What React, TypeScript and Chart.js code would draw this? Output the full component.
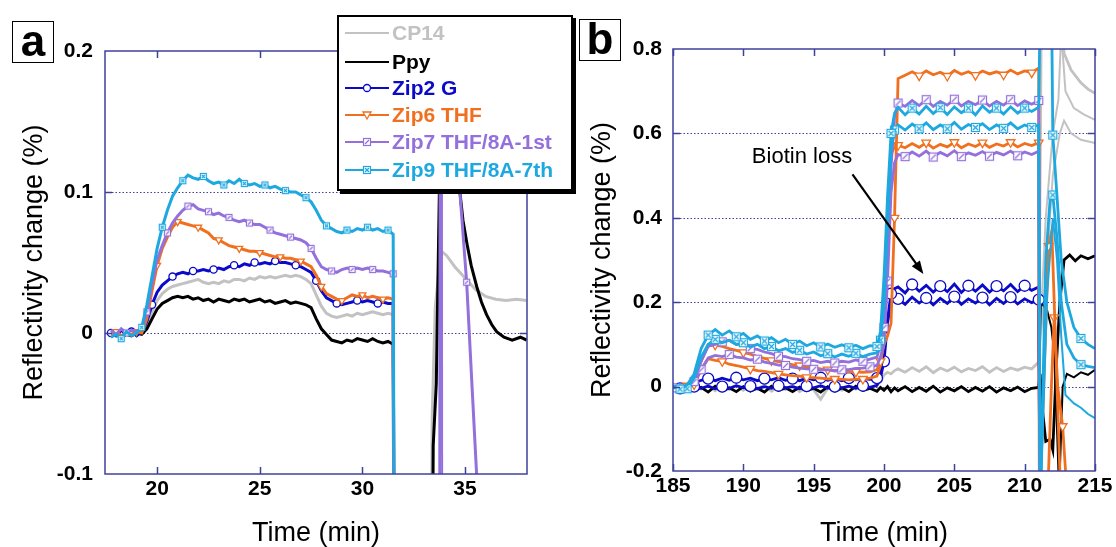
import React, { useEffect, useRef } from 'react';
import { Chart, registerables } from 'chart.js';

Chart.register(...registerables);

const FONT = '"Liberation Sans", Arial, Helvetica, sans-serif';

// ---------- colours ----------
const colCP14 = '#c2c2c2';
const colPpy = '#000000';
const colZip2 = '#0a0ac8';
const colZip6 = '#f07020';
const colZip7 = '#9370db';
const colZip9 = '#1ea8e0';
const frameColor = '#40409c';

// ---------- legend ----------
const seriesNames = ['CP14', 'Ppy', 'Zip2 G', 'Zip6 THF', 'Zip7 THF/8A-1st', 'Zip9 THF/8A-7th'];

// ---------- panel a: ticks ----------
const xTicksA = [20, 25, 30, 35];
const yTicksA = [-0.1, 0, 0.1, 0.2];
const yLabelsA = ['-0.1', '0', '0.1', '0.2'];
const xTitle = 'Time (min)';
const yTitle = 'Reflectivity change (%)';

// ---------- panel a: data ----------
const timeA = [
  17.75, 18, 18.25, 18.5, 18.75, 19, 19.25, 19.5, 19.75, 20,
  20.25, 20.5, 20.75, 21, 21.25, 21.5, 21.75, 22, 22.25, 22.5,
  22.75, 23, 23.25, 23.5, 23.75, 24, 24.25, 24.5, 24.75, 25,
  25.25, 25.5, 25.75, 26, 26.25, 26.5, 26.75, 27, 27.25, 27.5,
  27.75, 28, 28.25, 28.5, 28.75, 29, 29.25, 29.5, 29.75, 30,
  30.25, 30.5, 30.75, 31, 31.25, 31.5,
];
const zip9A = [
  -0.003, -0.001, -0.004, 0.001, -0.002, 0.0, 0.004, 0.02, 0.04, 0.06,
  0.075, 0.087, 0.097, 0.103, 0.108, 0.112, 0.11, 0.109, 0.111, 0.108,
  0.106, 0.107, 0.105, 0.108, 0.106, 0.109, 0.106, 0.105, 0.106, 0.104,
  0.105, 0.103, 0.104, 0.102, 0.101, 0.1, 0.1, 0.098, 0.096, 0.093,
  0.087, 0.08, 0.076, 0.074, 0.072, 0.071, 0.073, 0.072, 0.074, 0.073,
  0.075, 0.073, 0.074, 0.072, 0.073, 0.07,
];
const zip7A = [
  0.002, -0.001, 0.003, 0.0, 0.002, 0.001, 0.003, 0.015, 0.035, 0.052,
  0.062, 0.071, 0.078, 0.083, 0.087, 0.09, 0.091, 0.088, 0.087, 0.086,
  0.084, 0.085, 0.083, 0.082, 0.08, 0.079, 0.08, 0.078, 0.077, 0.077,
  0.075, 0.073, 0.071, 0.07, 0.069, 0.068, 0.067, 0.066, 0.064, 0.06,
  0.053, 0.047, 0.045, 0.044, 0.043, 0.045, 0.046, 0.045, 0.046, 0.045,
  0.046, 0.045, 0.044, 0.044, 0.043, 0.042,
];
const zip6A = [
  -0.001, 0.001, -0.002, 0.0, -0.001, 0.001, 0.0, 0.01, 0.03, 0.048,
  0.06, 0.068, 0.075, 0.079, 0.078, 0.077, 0.076, 0.075, 0.073, 0.071,
  0.067, 0.066, 0.064, 0.062, 0.061, 0.06, 0.059, 0.058, 0.058, 0.057,
  0.056, 0.055, 0.054, 0.054, 0.053, 0.053, 0.052, 0.051, 0.049, 0.047,
  0.041, 0.033, 0.028, 0.026, 0.024, 0.023, 0.025, 0.027, 0.026, 0.027,
  0.025, 0.026, 0.025, 0.024, 0.025, 0.024,
];
const zip2A = [
  0.0, -0.002, 0.002, -0.001, 0.001, -0.002, 0.001, 0.008, 0.02, 0.029,
  0.034, 0.037, 0.04, 0.042, 0.043, 0.042, 0.044, 0.044, 0.045, 0.044,
  0.045, 0.046, 0.045, 0.047, 0.048, 0.047, 0.049, 0.048, 0.05, 0.049,
  0.05, 0.049, 0.051, 0.05, 0.05, 0.049, 0.048, 0.047, 0.045, 0.043,
  0.037, 0.03, 0.025, 0.023, 0.021, 0.02, 0.021, 0.022, 0.023, 0.022,
  0.023, 0.022, 0.021, 0.022, 0.021, 0.021,
];
const cp14A = [
  0.001, -0.001, 0.002, 0.0, 0.001, -0.001, 0.001, 0.006, 0.015, 0.023,
  0.028, 0.031, 0.033, 0.034, 0.035, 0.036, 0.037, 0.038, 0.036, 0.035,
  0.036, 0.035, 0.037, 0.036, 0.038, 0.038, 0.037, 0.039, 0.038, 0.04,
  0.039, 0.04, 0.039, 0.04, 0.041, 0.04, 0.041, 0.04, 0.038, 0.035,
  0.027, 0.019, 0.014, 0.012, 0.011, 0.012, 0.013, 0.012, 0.014, 0.013,
  0.014, 0.015, 0.014, 0.013, 0.014, 0.013,
];
const ppyA = [
  -0.002, -0.001, -0.003, -0.001, -0.002, 0.0, -0.001, 0.003, 0.01, 0.017,
  0.021, 0.023, 0.025, 0.026, 0.025, 0.026, 0.024, 0.025, 0.023, 0.024,
  0.022, 0.024, 0.023, 0.022, 0.024, 0.023, 0.024, 0.022, 0.023, 0.024,
  0.022, 0.023, 0.021, 0.022, 0.023, 0.021, 0.022, 0.021, 0.02, 0.018,
  0.01, 0.003, -0.001, -0.005, -0.006, -0.007, -0.005, -0.006, -0.004, -0.005,
  -0.006, -0.004, -0.006, -0.007, -0.006, -0.008,
];
// after-injection parts of panel a
const cp14TailTA = [31.6, 33.25, 33.4, 33.55, 33.7, 33.85, 34.1, 34.5, 35.0, 35.5, 36.0, 36.5, 37.0, 37.5, 38.0];
const cp14TailVA = [-0.5, -0.5, -0.06, 0.018, 0.04, 0.058, 0.055, 0.047, 0.039, 0.031, 0.026, 0.024, 0.023, 0.024, 0.023];
const ppyTailTA = [31.6, 33.3, 33.45, 33.6, 33.75, 33.9, 34.6, 34.75, 34.9, 35.1, 35.3, 35.57, 35.8, 36.05, 36.3, 36.54, 36.9, 37.3, 37.7, 38.0];
const ppyTailVA = [-0.5, -0.5, -0.08, -0.036, 0.1, 0.35, 0.35, 0.1, 0.08, 0.063, 0.048, 0.033, 0.022, 0.013, 0.006, 0.001, -0.003, -0.005, -0.003, -0.005];
const zip7TailTA = [31.6, 33.75, 33.8, 34.65, 34.75, 35.08, 35.35, 35.6];
const zip7TailVA = [-0.5, -0.5, 0.4, 0.4, 0.1, 0.036, -0.04, -0.11];
const zip7TailMarksA = [35.08];
const zip7SpikeTA = [33.86, 33.9];
const zip7SpikeVA = [0.4, -0.4];
const dropTA = [31.62];
const dropVA = [-0.5];

// ---------- panel b: ticks ----------
const xTicksB = [185, 190, 195, 200, 205, 210, 215];
const yTicksB = [-0.2, 0, 0.2, 0.4, 0.6, 0.8];
const yLabelsB = ['-0.2', '0', '0.2', '0.4', '0.6', '0.8'];

// ---------- panel b: data ----------
const timeB = [
  185, 185.5, 186, 186.5, 187, 187.5, 188, 188.5, 189, 189.5,
  190, 190.5, 191, 191.5, 192, 192.5, 193, 193.5, 194, 194.5,
  195, 195.5, 196, 196.5, 197, 197.5, 198, 198.5, 199, 199.5,
  199.75, 200, 200.25, 200.5, 200.75,
  201, 201.5, 202, 202.5, 203, 203.5, 204, 204.5, 205, 205.5, 206,
  206.5, 207, 207.5, 208, 208.5, 209, 209.5, 210, 210.5, 211,
];
const zip9B1 = [
  0.002, -0.006, 0.004, 0.03, 0.09, 0.122, 0.135, 0.122, 0.132, 0.118,
  0.126, 0.112, 0.12, 0.108, 0.116, 0.104, 0.112, 0.1, 0.108, 0.097,
  0.104, 0.094, 0.101, 0.093, 0.099, 0.092, 0.098, 0.09, 0.097, 0.095,
  0.13, 0.26, 0.45, 0.6, 0.648,
  0.662, 0.644, 0.66, 0.646, 0.664, 0.647, 0.661, 0.645, 0.663, 0.649, 0.66,
  0.644, 0.665, 0.65, 0.66, 0.646, 0.663, 0.648, 0.66, 0.652, 0.662,
];
const zip9B2 = [
  -0.004, 0.002, -0.005, 0.02, 0.07, 0.1, 0.112, 0.104, 0.11, 0.1,
  0.104, 0.094, 0.1, 0.09, 0.095, 0.085, 0.09, 0.081, 0.086, 0.077,
  0.082, 0.073, 0.078, 0.07, 0.077, 0.072, 0.079, 0.071, 0.077, 0.08,
  0.11, 0.19, 0.38, 0.56, 0.608,
  0.62, 0.608, 0.622, 0.611, 0.625, 0.609, 0.62, 0.611, 0.626, 0.61, 0.621,
  0.614, 0.623, 0.609, 0.62, 0.612, 0.625, 0.611, 0.62, 0.614, 0.62,
];
const zip7B1 = [
  0.001, -0.004, 0.002, 0.012, 0.06, 0.095, 0.1, 0.106, 0.11, 0.1,
  0.1, 0.09, 0.088, 0.082, 0.078, 0.072, 0.071, 0.066, 0.064, 0.06,
  0.062, 0.057, 0.06, 0.056, 0.06, 0.058, 0.063, 0.06, 0.065, 0.07,
  0.1, 0.14, 0.3, 0.52, 0.64,
  0.672, 0.664, 0.678, 0.666, 0.68, 0.664, 0.676, 0.667, 0.681, 0.665, 0.676,
  0.668, 0.679, 0.665, 0.676, 0.667, 0.68, 0.666, 0.677, 0.669, 0.678,
];
const zip7B2 = [
  -0.003, 0.002, -0.002, 0.006, 0.04, 0.068, 0.074, 0.071, 0.076, 0.07,
  0.068, 0.063, 0.065, 0.058, 0.055, 0.051, 0.05, 0.046, 0.044, 0.042,
  0.041, 0.039, 0.04, 0.037, 0.04, 0.04, 0.043, 0.044, 0.047, 0.05,
  0.07, 0.1, 0.25, 0.46, 0.53,
  0.55, 0.545, 0.556, 0.546, 0.558, 0.544, 0.555, 0.547, 0.559, 0.545, 0.554,
  0.548, 0.557, 0.546, 0.555, 0.549, 0.558, 0.547, 0.556, 0.55, 0.558,
];
const zip6B1 = [
  0.0, -0.003, 0.002, 0.01, 0.06, 0.1, 0.099, 0.095, 0.09, 0.086,
  0.081, 0.077, 0.071, 0.067, 0.062, 0.059, 0.055, 0.052, 0.05, 0.047,
  0.045, 0.042, 0.04, 0.038, 0.036, 0.035, 0.035, 0.034, 0.035, 0.04,
  0.06, 0.1, 0.12, 0.15, 0.4,
  0.73, 0.738, 0.746, 0.737, 0.748, 0.739, 0.745, 0.736, 0.749, 0.74, 0.746,
  0.738, 0.748, 0.741, 0.746, 0.739, 0.75, 0.741, 0.748, 0.744, 0.755,
];
const zip6B2 = [
  0.001, -0.002, 0.001, 0.005, 0.04, 0.066, 0.062, 0.06, 0.053, 0.05,
  0.046, 0.042, 0.038, 0.036, 0.033, 0.03, 0.028, 0.026, 0.025, 0.022,
  0.021, 0.02, 0.018, 0.018, 0.017, 0.016, 0.017, 0.018, 0.02, 0.025,
  0.05, 0.12, 0.35, 0.55, 0.568,
  0.572, 0.566, 0.576, 0.567, 0.578, 0.565, 0.574, 0.568, 0.579, 0.566, 0.575,
  0.569, 0.578, 0.567, 0.575, 0.57, 0.579, 0.568, 0.576, 0.571, 0.578,
];
const zip2B1 = [
  0.0, -0.004, 0.003, 0.008, 0.015, 0.019, 0.014, 0.02, 0.015, 0.021,
  0.016, 0.02, 0.014, 0.019, 0.016, 0.021, 0.015, 0.019, 0.014, 0.02,
  0.016, 0.021, 0.015, 0.019, 0.014, 0.02, 0.016, 0.019, 0.017, 0.02,
  0.04, 0.08, 0.16, 0.22, 0.232,
  0.236, 0.222, 0.242, 0.226, 0.24, 0.224, 0.238, 0.225, 0.243, 0.223, 0.239,
  0.226, 0.241, 0.224, 0.238, 0.227, 0.242, 0.225, 0.239, 0.228, 0.236,
];
const zip2B2 = [
  -0.003, 0.002, -0.005, 0.0, -0.004, 0.001, -0.005, 0.0, -0.004, 0.002,
  -0.003, 0.001, -0.005, 0.0, -0.004, 0.002, -0.003, 0.0, -0.005, 0.001,
  -0.003, 0.002, -0.004, 0.0, -0.003, 0.001, -0.004, 0.002, -0.002, 0.003,
  0.02, 0.06, 0.15, 0.2, 0.205,
  0.208, 0.195, 0.212, 0.198, 0.21, 0.194, 0.209, 0.197, 0.213, 0.195, 0.208,
  0.198, 0.211, 0.194, 0.209, 0.197, 0.212, 0.196, 0.208, 0.199, 0.206,
];
const cp14B = [
  -0.004, 0.003, -0.008, 0.002, -0.006, 0.004, -0.01, 0.001, -0.007, 0.003,
  -0.009, 0.002, -0.006, 0.004, -0.011, 0.001, -0.007, 0.003, -0.012, 0.0,
  -0.008, -0.03, -0.004, 0.002, -0.009, 0.001, -0.006, 0.003, -0.005, 0.004,
  0.012, 0.028, 0.034, 0.03, 0.038,
  0.042, 0.034, 0.045, 0.036, 0.047, 0.033, 0.044, 0.037, 0.046, 0.035, 0.043,
  0.038, 0.047, 0.034, 0.045, 0.036, 0.044, 0.039, 0.046, 0.042, 0.058,
];
const ppyB = [
  -0.004, -0.012, 0.002, -0.009, -0.002, -0.013, 0.001, -0.01, -0.003, -0.012,
  0.0, -0.011, -0.004, -0.013, 0.001, -0.009, -0.003, -0.012, -0.001, -0.01,
  -0.004, -0.013, 0.0, -0.011, -0.003, -0.012, 0.001, -0.009, -0.004, -0.011,
  -0.002, -0.009, 0.0, -0.012, -0.003,
  -0.01, 0.0, -0.012, -0.002, -0.011, 0.001, -0.013, -0.003, -0.01, 0.0, -0.012,
  -0.002, -0.011, 0.0, -0.013, -0.003, -0.01, -0.001, -0.012, -0.004, -0.002,
];
// after-injection parts of panel b
const zip9TailT1 = [211.12, 211.9, 212.0, 212.3, 212.6, 213.0, 213.5, 214.0, 214.5, 215.0];
const zip9TailV1 = [0.95, 0.95, 0.596, 0.45, 0.3, 0.2, 0.14, 0.114, 0.1, 0.09];
const zip9TailT2 = [211.1, 211.5, 211.8, 212.0, 212.3, 212.6, 213.0, 213.5, 214.0, 214.5, 215.0];
const zip9TailV2 = [-0.3, 0.3, 0.44, 0.454, 0.35, 0.2, 0.1, 0.068, 0.052, 0.048, 0.045];
const zip9TailT3 = [211.0, 211.1, 211.6, 212.0, 212.3, 212.6, 212.9, 213.5, 214.0, 214.5, 215.0];
const zip9TailV3 = [0.62, -0.3, 0.22, 0.399, 0.3, 0.12, -0.02, -0.04, -0.05, -0.065, -0.075];
const zip9TailMarks = [212.0, 214.0];
const zip6TailT1 = [211.05, 211.35, 211.7, 211.93, 212.15, 212.4, 212.6];
const zip6TailV1 = [-0.3, 0.0, 0.333, 0.37, 0.15, -0.1, -0.3];
const zip6TailT2 = [211.05, 211.6, 211.9, 212.1, 212.35, 212.7, 213.1];
const zip6TailV2 = [-0.3, -0.3, 0.0, 0.164, 0.0, -0.094, -0.3];
const zip6TailMarks = [211.7, 212.1, 212.7];
const dropTB = [211.1];
const dropVB = [-0.4];
const cp14TailT1 = [211.2, 212.6, 212.8, 213.3, 214.0, 214.5, 215.0];
const cp14TailV1 = [0.95, 0.95, 0.79, 0.75, 0.72, 0.705, 0.695];
const cp14TailT2 = [211.0, 211.5, 212.0, 212.4, 212.6, 212.9, 213.5, 214.2, 215.0];
const cp14TailV2 = [0.058, 0.4, 0.6, 0.68, 0.84, 0.7, 0.66, 0.645, 0.632];
const cp14TailT3 = [211.0, 211.6, 212.0, 212.5, 212.8, 213.3, 214.0, 215.0];
const cp14TailV3 = [0.058, 0.3, 0.5, 0.6, 0.63, 0.6, 0.585, 0.577];
const ppyTailT1 = [211.1, 211.25, 211.5, 211.8, 212.0, 212.25, 212.5, 212.8, 213.2, 213.6, 214.0, 214.5, 215.0];
const ppyTailV1 = [0.03, -0.05, -0.13, -0.125, -0.15, 0.05, 0.2, 0.3, 0.312, 0.298, 0.31, 0.303, 0.31];
const ppyTailT2 = [211.0, 211.15, 211.6, 211.9, 212.1, 212.3, 212.45, 212.7, 213.0, 213.5, 214.0, 214.5, 215.0];
const ppyTailV2 = [-0.005, 0.2, 0.18, 0.14, 0.08, -0.1, -0.25, 0.0, 0.03, 0.022, 0.034, 0.028, 0.04];

// annotation
const annotText = 'Biotin loss';
const annotTextAt = [194.17, 0.544];
const annotArrowFrom = [197.76, 0.503];
const annotArrowTo = [202.8, 0.267];

// ---------- helpers ----------
type P = { x: number; y: number };
const pts = (t: number[], v: number[]): P[] => t.map((x, i) => ({ x, y: v[i] }));

function boxMarker(color: string, size: number, kind: 'slash' | 'cross') {
  const pad = 2;
  const c = document.createElement('canvas');
  c.width = size + pad * 2;
  c.height = size + pad * 2;
  const g = c.getContext('2d')!;
  g.fillStyle = '#fff';
  g.fillRect(pad, pad, size, size);
  g.strokeStyle = color;
  g.lineWidth = 1.2;
  g.strokeRect(pad + 0.5, pad + 0.5, size - 1, size - 1);
  g.beginPath();
  const a = pad + 2;
  const b = pad + size - 2;
  if (kind === 'slash') {
    g.moveTo(a, b);
    g.lineTo(b, a);
  } else {
    g.moveTo(a, a);
    g.lineTo(b, b);
    g.moveTo(a, b);
    g.lineTo(b, a);
  }
  g.stroke();
  return c;
}

type Mk = { style: any; radius: number; every: number; offset: number; tailMarks?: number[]; rotation?: number };

function ds(color: string, main: P[], tail: P[], width: number, mk?: Mk) {
  const data = main.concat(tail);
  const mainLen = main.length;
  return {
    data,
    borderColor: color,
    backgroundColor: color,
    borderWidth: width,
    tension: 0,
    fill: false,
    pointStyle: mk ? mk.style : 'circle',
    pointRotation: mk && mk.rotation ? mk.rotation : 0,
    pointRadius: mk
      ? (ctx: any) => {
          const i = ctx.dataIndex;
          if (i < mainLen) return i % mk.every === mk.offset ? mk.radius : 0;
          return (mk.tailMarks || []).includes(data[i].x) ? mk.radius : 0;
        }
      : 0,
    pointBackgroundColor: '#fff',
    pointBorderColor: color,
    pointBorderWidth: 1.3,
  };
}

function labelFor(ticks: number[], labels: string[], v: number) {
  const i = ticks.findIndex((t) => Math.abs(t - v) < 1e-9);
  return i >= 0 ? labels[i] : '';
}

function framePlugin(xTicks: number[], yTicks: number[]) {
  return {
    id: 'frame',
    beforeDatasetsDraw(chart: any) {
      const { ctx, chartArea: ca, scales } = chart;
      const y = scales.y;
      ctx.save();
      ctx.strokeStyle = frameColor;
      ctx.lineWidth = 1;
      ctx.setLineDash([1.5, 2]);
      yTicks.slice(1, -1).forEach((v) => {
        const py = Math.round(y.getPixelForValue(v)) + 0.5;
        ctx.beginPath();
        ctx.moveTo(ca.left, py);
        ctx.lineTo(ca.right, py);
        ctx.stroke();
      });
      ctx.restore();
    },
    afterDatasetsDraw(chart: any) {
      const { ctx, chartArea: ca, scales } = chart;
      const x = scales.x;
      const y = scales.y;
      const L = 7;
      ctx.save();
      ctx.strokeStyle = frameColor;
      ctx.lineWidth = 1.5;
      ctx.strokeRect(ca.left, ca.top, ca.right - ca.left, ca.bottom - ca.top);
      ctx.beginPath();
      xTicks.forEach((v) => {
        const px = Math.round(x.getPixelForValue(v)) + 0.5;
        ctx.moveTo(px, ca.top);
        ctx.lineTo(px, ca.top + L);
        ctx.moveTo(px, ca.bottom);
        ctx.lineTo(px, ca.bottom - L);
      });
      yTicks.slice(1, -1).forEach((v) => {
        const py = Math.round(y.getPixelForValue(v)) + 0.5;
        ctx.moveTo(ca.left, py);
        ctx.lineTo(ca.left + L, py);
        ctx.moveTo(ca.right, py);
        ctx.lineTo(ca.right - L, py);
      });
      ctx.stroke();
      ctx.restore();
    },
  };
}

const annotationPlugin = {
  id: 'annot',
  afterDatasetsDraw(chart: any) {
    const { ctx, scales } = chart;
    const x = scales.x;
    const y = scales.y;
    ctx.save();
    ctx.font = `22px ${FONT}`;
    ctx.fillStyle = '#000';
    ctx.textAlign = 'center';
    ctx.textBaseline = 'middle';
    ctx.fillText(annotText, x.getPixelForValue(annotTextAt[0]), y.getPixelForValue(annotTextAt[1]));
    const x1 = x.getPixelForValue(annotArrowFrom[0]);
    const y1 = y.getPixelForValue(annotArrowFrom[1]);
    const x2 = x.getPixelForValue(annotArrowTo[0]);
    const y2 = y.getPixelForValue(annotArrowTo[1]);
    const ang = Math.atan2(y2 - y1, x2 - x1);
    const hl = 13;
    const hw = 5;
    ctx.strokeStyle = '#000';
    ctx.lineWidth = 2.2;
    ctx.beginPath();
    ctx.moveTo(x1, y1);
    ctx.lineTo(x2 - Math.cos(ang) * hl * 0.8, y2 - Math.sin(ang) * hl * 0.8);
    ctx.stroke();
    ctx.beginPath();
    ctx.moveTo(x2, y2);
    ctx.lineTo(x2 - Math.cos(ang) * hl - Math.sin(ang) * hw, y2 - Math.sin(ang) * hl + Math.cos(ang) * hw);
    ctx.lineTo(x2 - Math.cos(ang) * hl + Math.sin(ang) * hw, y2 - Math.sin(ang) * hl - Math.cos(ang) * hw);
    ctx.closePath();
    ctx.fillStyle = '#000';
    ctx.fill();
    ctx.restore();
  },
};

const tickFont = { family: FONT, size: 21, weight: 'bold' as const };
const titleFont = { family: FONT, size: 27, weight: 'normal' as const, lineHeight: 1 };

function makeOptions(p: {
  xMin: number; xMax: number; yMin: number; yMax: number;
  xTicks: number[]; yTicks: number[]; yLabels: string[];
  padTop: number; padRight: number; yWidth: number; xHeight: number;
  yTickPad: number; yTitlePad: number;
}) {
  return {
    animation: false,
    responsive: false,
    maintainAspectRatio: false,
    events: [],
    layout: { padding: { left: 0, top: p.padTop, right: p.padRight, bottom: 0 } },
    plugins: { legend: { display: false }, tooltip: { enabled: false }, title: { display: false } },
    scales: {
      x: {
        type: 'linear',
        min: p.xMin,
        max: p.xMax,
        grid: { display: false, drawTicks: false },
        border: { display: false },
        afterBuildTicks: (s: any) => {
          s.ticks = p.xTicks.map((v) => ({ value: v }));
        },
        afterFit: (s: any) => {
          s.height = p.xHeight;
          s.paddingLeft = 0;
          s.paddingRight = 0;
        },
        ticks: { font: tickFont, color: '#000', padding: 3, maxRotation: 0, autoSkip: false, callback: (v: any) => String(v) },
        title: { display: true, text: xTitle, font: titleFont, color: '#000', padding: { top: 0, bottom: 0 } },
      },
      y: {
        type: 'linear',
        min: p.yMin,
        max: p.yMax,
        grid: { display: false, drawTicks: false },
        border: { display: false },
        afterBuildTicks: (s: any) => {
          s.ticks = p.yTicks.map((v) => ({ value: v }));
        },
        afterFit: (s: any) => {
          s.width = p.yWidth;
          s.paddingTop = 0;
          s.paddingBottom = 0;
        },
        ticks: {
          font: tickFont,
          color: '#000',
          padding: p.yTickPad,
          autoSkip: false,
          callback: (v: any) => labelFor(p.yTicks, p.yLabels, v),
        },
        title: { display: true, text: yTitle, font: titleFont, color: '#000', padding: { top: p.yTitlePad, bottom: 0 } },
      },
    },
  };
}

function configA(): any {
  const mk9 = boxMarker(colZip9, 7, 'cross');
  const mk7 = boxMarker(colZip7, 7, 'slash');
  const main = (v: number[]) => pts(timeA, v);
  const w = 3;
  const datasets = [
    ds(colZip9, main(zip9A), pts(dropTA, dropVA), w, { style: mk9, radius: 4, every: 4, offset: 2 }),
    ds(colZip7, main(zip7A), pts(zip7TailTA, zip7TailVA), w, { style: mk7, radius: 4, every: 4, offset: 3, tailMarks: zip7TailMarksA }),
    ds(colZip7, pts(zip7SpikeTA, zip7SpikeVA), [], 2),
    ds(colZip6, main(zip6A), pts(dropTA, dropVA), w, { style: 'triangle', radius: 4, every: 4, offset: 1, rotation: 180 }),
    ds(colZip2, main(zip2A), pts(dropTA, dropVA), w, { style: 'circle', radius: 3.6, every: 4, offset: 0 }),
    ds(colPpy, main(ppyA), pts(ppyTailTA, ppyTailVA), w),
    ds(colCP14, main(cp14A), pts(cp14TailTA, cp14TailVA), w),
  ];
  return {
    type: 'line',
    data: { datasets },
    options: makeOptions({
      xMin: 17.46, xMax: 38.02, yMin: -0.1, yMax: 0.2,
      xTicks: xTicksA, yTicks: yTicksA, yLabels: yLabelsA,
      padTop: 51, padRight: 33, yWidth: 105, xHeight: 73,
      yTickPad: 12, yTitlePad: 21,
    }),
    plugins: [framePlugin(xTicksA, yTicksA)],
  };
}

function configB(): any {
  const mk9 = boxMarker(colZip9, 9, 'cross');
  const mk7 = boxMarker(colZip7, 9, 'slash');
  const main = (v: number[]) => pts(timeB, v);
  const w = 2.8;
  const datasets = [
    ds(colZip9, main(zip9B1), pts(zip9TailT1, zip9TailV1), w, { style: mk9, radius: 5, every: 4, offset: 1, tailMarks: zip9TailMarks }),
    ds(colZip9, main(zip9B2), pts(zip9TailT2, zip9TailV2), w, { style: mk9, radius: 5, every: 4, offset: 2, tailMarks: zip9TailMarks }),
    ds(colZip9, pts(zip9TailT3, zip9TailV3), [], 2, { style: mk9, radius: 5, every: 1, offset: 99, tailMarks: zip9TailMarks }),
    ds(colZip7, main(zip7B1), pts(dropTB, dropVB), w, { style: mk7, radius: 5, every: 4, offset: 3 }),
    ds(colZip7, main(zip7B2), pts(dropTB, dropVB), w, { style: mk7, radius: 5, every: 4, offset: 0 }),
    ds(colZip6, main(zip6B1), pts(zip6TailT1, zip6TailV1), w, { style: 'triangle', radius: 5, every: 4, offset: 2, rotation: 180, tailMarks: zip6TailMarks }),
    ds(colZip6, main(zip6B2), pts(zip6TailT2, zip6TailV2), w, { style: 'triangle', radius: 5, every: 4, offset: 3, rotation: 180, tailMarks: zip6TailMarks }),
    ds(colZip2, main(zip2B1), pts(dropTB, dropVB), w, { style: 'circle', radius: 5.5, every: 4, offset: 1 }),
    ds(colZip2, main(zip2B2), pts(dropTB, dropVB), w, { style: 'circle', radius: 5.5, every: 4, offset: 3 }),
    ds(colPpy, main(ppyB), pts(ppyTailT1, ppyTailV1), w),
    ds(colPpy, pts(ppyTailT2, ppyTailV2), [], 2),
    ds(colCP14, main(cp14B), pts(cp14TailT1, cp14TailV1), w),
    ds(colCP14, pts(cp14TailT2, cp14TailV2), [], 2),
    ds(colCP14, pts(cp14TailT3, cp14TailV3), [], 2),
  ];
  return {
    type: 'line',
    data: { datasets },
    options: makeOptions({
      xMin: 185, xMax: 215, yMin: -0.2, yMax: 0.8,
      xTicks: xTicksB, yTicks: yTicksB, yLabels: yLabelsB,
      padTop: 49, padRight: 21, yWidth: 113, xHeight: 76,
      yTickPad: 11, yTitlePad: 29,
    }),
    plugins: [framePlugin(xTicksB, yTicksB), annotationPlugin],
  };
}

// ---------- legend ----------
const legendColors = [colCP14, colPpy, colZip2, colZip6, colZip7, colZip9];
const legendMarkers = ['none', 'none', 'circle', 'triangle', 'slash', 'cross'];
const legendRowCenters = [33, 62, 88, 115, 142, 170];

function LegendMarker({ kind, color }: { kind: string; color: string }) {
  const cx = 22;
  const cy = 8;
  if (kind === 'circle') return <circle cx={cx} cy={cy} r={3.5} fill="#fff" stroke={color} strokeWidth={1.3} />;
  if (kind === 'triangle')
    return <polygon points={`${cx - 4},${cy - 3} ${cx + 4},${cy - 3} ${cx},${cy + 4}`} fill="#fff" stroke={color} strokeWidth={1.3} />;
  if (kind === 'slash' || kind === 'cross')
    return (
      <g stroke={color} strokeWidth={1.2} fill="#fff">
        <rect x={cx - 3.5} y={cy - 3.5} width={7} height={7} />
        <line x1={cx - 2} y1={cy + 2} x2={cx + 2} y2={cy - 2} />
        {kind === 'cross' ? <line x1={cx - 2} y1={cy - 2} x2={cx + 2} y2={cy + 2} /> : null}
      </g>
    );
  return null;
}

function Legend() {
  const left = 337;
  const top = 15;
  return (
    <div
      style={{
        position: 'absolute',
        left,
        top,
        width: 232,
        height: 172,
        border: '2px solid #000',
        boxShadow: '3px 3px 0 #000',
        background: '#fff',
        zIndex: 5,
      }}
    >
      {seriesNames.map((name, i) => (
        <div
          key={name}
          style={{
            position: 'absolute',
            left: 6,
            top: legendRowCenters[i] - top - 2 - 14,
            height: 28,
            display: 'flex',
            alignItems: 'center',
            whiteSpace: 'nowrap',
          }}
        >
          <svg width={44} height={16} style={{ display: 'block' }}>
            <line x1={0} y1={8} x2={44} y2={8} stroke={legendColors[i]} strokeWidth={2} />
            <LegendMarker kind={legendMarkers[i]} color={legendColors[i]} />
          </svg>
          <span style={{ marginLeft: 3, color: legendColors[i], font: `bold 21px ${FONT}`, lineHeight: '28px' }}>{name}</span>
        </div>
      ))}
    </div>
  );
}

function PanelLabel({ text, left, top, baseline }: { text: string; left: number; top: number; baseline: number }) {
  return (
    <div
      style={{
        position: 'absolute',
        left,
        top,
        width: 40,
        height: 40,
        border: '1.5px solid #000',
        background: '#fff',
        zIndex: 6,
      }}
    >
      <div
        style={{
          position: 'absolute',
          left: 0,
          width: 40,
          textAlign: 'center',
          top: baseline - 37,
          font: `bold 44px ${FONT}`,
          lineHeight: '44px',
          color: '#000',
        }}
      >
        {text}
      </div>
    </div>
  );
}

export default function App() {
  const refA = useRef<HTMLCanvasElement>(null);
  const refB = useRef<HTMLCanvasElement>(null);
  useEffect(() => {
    const ca = new Chart(refA.current!, configA());
    const cb = new Chart(refB.current!, configB());
    return () => {
      ca.destroy();
      cb.destroy();
    };
  }, []);
  return (
    <div style={{ position: 'fixed', left: 0, top: 0, width: 1116, height: 547, background: '#fff', overflow: 'hidden' }}>
      <canvas ref={refA} width={560} height={547} style={{ position: 'absolute', left: 0, top: 0, width: 560, height: 547 }} />
      <canvas ref={refB} width={556} height={547} style={{ position: 'absolute', left: 560, top: 0, width: 556, height: 547 }} />
      <Legend />
      <PanelLabel text="a" left={12} top={21} baseline={34} />
      <PanelLabel text="b" left={579} top={19} baseline={34} />
    </div>
  );
}
